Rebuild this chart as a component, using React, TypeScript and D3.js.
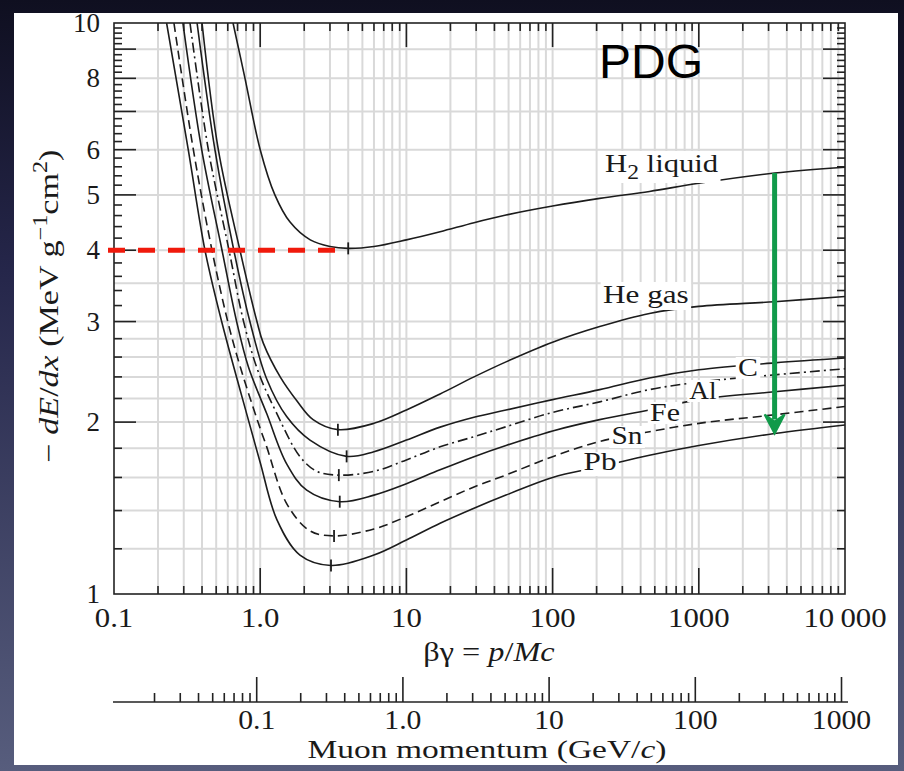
import React, { useEffect, useRef } from "react";
import * as d3 from "d3";

const W = 904;
const H = 771;

// ---- data: [βγ, −dE/dx (MeV g^-1 cm^2)] ----
const h2Liquid = [[0.652, 10], [0.787, 8], [1.0, 6], [1.26, 5], [1.6, 4.48], [2.2, 4.17], [3.0, 4.06], [4.0, 4.03], [6, 4.06], [10, 4.17], [17, 4.31], [29, 4.47], [48, 4.61], [100, 4.78], [210, 4.93], [460, 5.07], [1000, 5.24], [3300, 5.46], [10000, 5.59]];
const heGas = [[0.40, 10], [0.517, 6], [0.727, 4], [0.95, 3], [1.05, 2.75], [1.37, 2.40], [1.78, 2.18], [2.3, 2.02], [3.4, 1.94], [6, 1.99], [10, 2.10], [17, 2.24], [29, 2.40], [48, 2.55], [100, 2.76], [210, 2.94], [460, 3.10], [1000, 3.19], [3300, 3.25], [10000, 3.32]];
const carbon = [[0.370, 10], [0.49, 6], [0.66, 4], [0.85, 3], [1.108, 2.38], [1.517, 2.045], [2.19, 1.86], [3.9, 1.742], [6, 1.775], [10, 1.86], [17, 1.96], [29, 2.04], [48, 2.10], [100, 2.19], [210, 2.28], [460, 2.39], [1000, 2.47], [3300, 2.54], [10000, 2.59]];
const aluminum = [[0.331, 10], [0.442, 6], [0.612, 4], [0.77, 3], [0.97, 2.45], [1.30, 2.07], [1.87, 1.74], [2.44, 1.64], [3.45, 1.615], [6, 1.64], [10, 1.717], [17, 1.81], [29, 1.886], [48, 1.963], [100, 2.08], [210, 2.17], [460, 2.28], [1000, 2.35], [3300, 2.42], [10000, 2.48]];
const iron = [[0.296, 10], [0.398, 6], [0.548, 4], [0.69, 3], [0.83, 2.5], [1.108, 2.07], [1.517, 1.69], [2.08, 1.52], [3.5, 1.451], [6, 1.49], [10, 1.56], [17, 1.65], [29, 1.74], [48, 1.82], [100, 1.93], [210, 2.02], [460, 2.10], [1000, 2.19], [3300, 2.26], [10000, 2.32]];
const tin = [[0.257, 10], [0.349, 6], [0.468, 4], [0.60, 3], [0.73, 2.5], [0.966, 2], [1.108, 1.81], [1.517, 1.44], [2.19, 1.29], [3.2, 1.264], [6, 1.30], [10, 1.366], [17, 1.45], [29, 1.54], [48, 1.616], [100, 1.74], [210, 1.85], [460, 1.924], [1000, 1.99], [3300, 2.06], [10000, 2.13]];
const lead = [[0.229, 10], [0.322, 6], [0.419, 4], [0.545, 3], [0.838, 2], [1.0, 1.70], [1.30, 1.35], [1.87, 1.17], [3.05, 1.122], [6, 1.17], [10, 1.243], [17, 1.33], [29, 1.413], [48, 1.49], [100, 1.60], [210, 1.67], [460, 1.75], [1000, 1.82], [3300, 1.91], [10000, 1.977]];

// minimum-ionization markers [βγ, value]
const minMarks = [[4.0, 4.03], [3.4, 1.94], [3.9, 1.742], [3.45, 1.615], [3.5, 1.451], [3.2, 1.264], [3.05, 1.122]];

// axes
const xMajor = [0.1, 1, 10, 100, 1000, 10000];
const xMajorLabels = ["0.1", "1.0", "10", "100", "1000", "10\u2009000"];
const yLabelValues = [1, 2, 3, 4, 5, 6, 8, 10];
const yGridValues = [1.2, 1.4, 1.6, 1.8, 2, 2.2, 2.4, 2.6, 2.8, 3, 3.5, 4, 5, 6, 7, 8, 9];
const muonMajor = [0.1, 1, 10, 100, 1000];
const muonLabels = ["0.1", "1.0", "10", "100", "1000"];
const muonMass = 0.10566; // GeV/c^2

// annotations
const redLine = { from: 0.091, to: 3.4, value: 4.0 };
const greenArrow = { bg: 3300, from: 5.46, to: 1.91 };

const SERIF = "'Liberation Serif', 'Times New Roman', Times, serif";
const SANS = "'Liberation Sans', Arial, Helvetica, sans-serif";

export default function App() {
  const ref = useRef<SVGSVGElement>(null);

  useEffect(() => {
    const svg = d3.select(ref.current);
    svg.selectAll("*").remove();

    const L = 114, R = 845, T = 23, B = 594;
    const x = d3.scaleLog().domain([0.1, 10000]).range([L, R]);
    const y = d3.scaleLog().domain([1, 10]).range([B, T]);

    const defs = svg.append("defs");
    const grad = defs.append("linearGradient").attr("id", "bg").attr("x1", 0).attr("y1", 0).attr("x2", 0).attr("y2", 1);
    grad.append("stop").attr("offset", 0).attr("stop-color", "#0f0f20");
    grad.append("stop").attr("offset", 0.35).attr("stop-color", "#25264a");
    grad.append("stop").attr("offset", 1).attr("stop-color", "#575d7d");
    defs.append("clipPath").attr("id", "plotclip").append("rect")
      .attr("x", L).attr("y", T).attr("width", R - L).attr("height", B - T);

    svg.append("rect").attr("width", W).attr("height", H).attr("fill", "url(#bg)");
    svg.append("rect").attr("x", 14).attr("y", 13).attr("width", 884).attr("height", 752).attr("fill", "#ffffff");

    // ---- grid ----
    const xMinor: number[] = [];
    for (let e = -1; e < 4; e++) for (let k = 1; k < 10; k++) xMinor.push(k * Math.pow(10, e));
    const grid = svg.append("g").attr("stroke", "#d9d9d9").attr("stroke-width", 2);
    xMinor.filter(v => v > 0.1 && v < 10000).forEach(v => {
      grid.append("line").attr("x1", x(v)).attr("x2", x(v)).attr("y1", T).attr("y2", B);
    });
    yGridValues.forEach(v => {
      grid.append("line").attr("x1", L).attr("x2", R).attr("y1", y(v)).attr("y2", y(v));
    });

    // ---- curves ----
    const line = d3.line<number[]>().x(d => x(d[0])).y(d => y(d[1])).curve(d3.curveCatmullRom.alpha(0.5));
    const curves: [number[][], string | null][] = [
      [h2Liquid, null], [heGas, null], [carbon, null], [aluminum, "10,4,2,4"],
      [iron, null], [tin, "9,5"], [lead, null],
    ];
    const cg = svg.append("g").attr("clip-path", "url(#plotclip)");
    curves.forEach(([data, dash]) => {
      const p = cg.append("path").attr("d", line(data) as string).attr("fill", "none")
        .attr("stroke", "#1c1c1c").attr("stroke-width", 1.6);
      if (dash) p.attr("stroke-dasharray", dash);
    });
    minMarks.forEach(([bg, v]) => {
      cg.append("line").attr("x1", x(bg)).attr("x2", x(bg)).attr("y1", y(v) - 6).attr("y2", y(v) + 6)
        .attr("stroke", "#1c1c1c").attr("stroke-width", 1.8);
    });

    // ---- label helper ----
    const labelG = svg.append("g");
    function boxedLabel(px: number, py: number, anchor: string, sx: number, build: (t: any) => void, padTop: number, padBot: number) {
      const g = labelG.append("g").attr("transform", `translate(${px},${py}) scale(${sx},1)`);
      const rect = g.append("rect").attr("fill", "#ffffff");
      const t = g.append("text").attr("text-anchor", anchor).attr("font-family", SERIF)
        .attr("font-size", 26).attr("fill", "#1a1a1a");
      build(t);
      const bb = (t.node() as SVGTextElement).getBBox();
      rect.attr("x", bb.x - 2).attr("width", bb.width + 4).attr("y", -padTop).attr("height", padTop + padBot);
    }
    boxedLabel(605, 172, "start", 1.18, t => {
      t.append("tspan").text("H");
      t.append("tspan").attr("dy", 7).attr("font-size", 20).text("2");
      t.append("tspan").attr("dy", -7).text(" liquid");
    }, 21, 11);
    boxedLabel(603, 303, "start", 1.2, t => t.text("He gas"), 21, 7);
    boxedLabel(748, 376, "middle", 1.15, t => t.text("C"), 19, 3);
    boxedLabel(703, 399, "middle", 1.05, t => t.text("Al"), 19, 3);
    boxedLabel(665, 421, "middle", 1.15, t => t.text("Fe"), 19, 3);
    boxedLabel(627, 444, "middle", 1.13, t => t.text("Sn"), 18, 4);
    boxedLabel(600, 470, "middle", 1.2, t => t.text("Pb"), 18, 6);

    // ---- frame and ticks ----
    const ax = svg.append("g").attr("stroke", "#222").attr("stroke-width", 1.6);
    ax.append("rect").attr("x", L).attr("y", T).attr("width", R - L).attr("height", B - T).attr("fill", "none");
    xMinor.filter(v => v > 0.1 && v < 10000).forEach(v => {
      const major = Math.abs(Math.log10(v) - Math.round(Math.log10(v))) < 1e-9;
      const lb = major ? 26 : 8, lt = major ? 24 : 8;
      ax.append("line").attr("x1", x(v)).attr("x2", x(v)).attr("y1", B).attr("y2", B - lb);
      ax.append("line").attr("x1", x(v)).attr("x2", x(v)).attr("y1", T).attr("y2", T + lt);
    });
    for (let i = 1; i < 45; i++) {
      const v = 1 + i * 0.2;
      const major = Math.abs(v - Math.round(v)) < 1e-6;
      const len = major ? 22 : 8;
      ax.append("line").attr("x1", L).attr("x2", L + len).attr("y1", y(v)).attr("y2", y(v));
      ax.append("line").attr("x1", R).attr("x2", R - len).attr("y1", y(v)).attr("y2", y(v));
    }

    const txt = svg.append("g").attr("font-family", SERIF).attr("fill", "#1a1a1a");
    yLabelValues.forEach(v => {
      txt.append("text").attr("x", 100).attr("y", y(v) + 9).attr("text-anchor", "end")
        .attr("font-size", 27).text(String(v));
    });
    xMajor.forEach((v, i) => {
      txt.append("text").attr("transform", `translate(${x(v)},627) scale(1.1,1)`)
        .attr("text-anchor", "middle").attr("font-size", 28).text(xMajorLabels[i]);
    });

    function fitted(px: number, py: number, target: number, rot: boolean, size: number, build: (t: any) => void) {
      const t = txt.append("text").attr("text-anchor", "middle").attr("font-size", size);
      build(t);
      const w = (t.node() as SVGTextElement).getBBox().width;
      const s = target / w;
      t.attr("transform", `translate(${px},${py})${rot ? " rotate(-90)" : ""} scale(${s},1)`);
    }
    fitted(489, 661, 132, false, 28, t => {
      t.append("tspan").text("βγ = ");
      t.append("tspan").attr("font-style", "italic").text("p");
      t.append("tspan").text("/");
      t.append("tspan").attr("font-style", "italic").text("Mc");
    });
    fitted(58, 306, 313, true, 28, t => {
      t.append("tspan").text("− ");
      t.append("tspan").attr("font-style", "italic").text("dE");
      t.append("tspan").text("/");
      t.append("tspan").attr("font-style", "italic").text("dx");
      t.append("tspan").text(" (MeV g");
      t.append("tspan").attr("dy", -11).attr("font-size", 20).text("−1");
      t.append("tspan").attr("dy", 11).text("cm");
      t.append("tspan").attr("dy", -11).attr("font-size", 20).text("2");
      t.append("tspan").attr("dy", 11).text(")");
    });

    // ---- muon momentum axis ----
    const my = 702;
    const mx = (p: number) => x(p / muonMass);
    ax.append("line").attr("x1", 113).attr("x2", 848).attr("y1", my).attr("y2", my);
    for (let e = -2; e < 3; e++) {
      for (let k = 1; k < 10; k++) {
        const p = k * Math.pow(10, e);
        if (p < 0.02) continue;
        ax.append("line").attr("x1", mx(p)).attr("x2", mx(p)).attr("y1", my).attr("y2", my - (k === 1 ? 25 : 9));
      }
    }
    ax.append("line").attr("x1", mx(1000)).attr("x2", mx(1000)).attr("y1", my).attr("y2", my - 25);
    muonMajor.forEach((p, i) => {
      txt.append("text").attr("transform", `translate(${mx(p)},729) scale(1.1,1)`)
        .attr("text-anchor", "middle").attr("font-size", 27).text(muonLabels[i]);
    });
    fitted(487, 758, 359, false, 26, t => {
      t.append("tspan").text("Muon momentum (GeV/");
      t.append("tspan").attr("font-style", "italic").text("c");
      t.append("tspan").text(")");
    });

    // ---- annotations ----
    svg.append("line").attr("x1", x(redLine.from)).attr("x2", x(redLine.to))
      .attr("y1", y(redLine.value)).attr("y2", y(redLine.value))
      .attr("stroke", "#f01a0c").attr("stroke-width", 5).attr("stroke-dasharray", "17,13");

    const ax0 = x(greenArrow.bg), ay0 = y(greenArrow.from), ay1 = y(greenArrow.to);
    svg.append("line").attr("x1", ax0).attr("x2", ax0).attr("y1", ay0).attr("y2", ay1 - 14)
      .attr("stroke", "#119a4a").attr("stroke-width", 5);
    svg.append("path").attr("d", `M${ax0 - 10},${ay1 - 19} L${ax0},${ay1} L${ax0 + 10},${ay1 - 19} L${ax0},${ay1 - 12} Z`)
      .attr("fill", "#119a4a").attr("stroke", "#119a4a").attr("stroke-width", 2).attr("stroke-linejoin", "miter");

    svg.append("text").attr("x", 599).attr("y", 78).attr("font-family", SANS).attr("font-size", 48)
      .attr("fill", "#000").text("PDG");
  }, []);

  return <svg ref={ref} width={W} height={H} style={{ position: "absolute", left: 0, top: 0, display: "block" }} />;
}
